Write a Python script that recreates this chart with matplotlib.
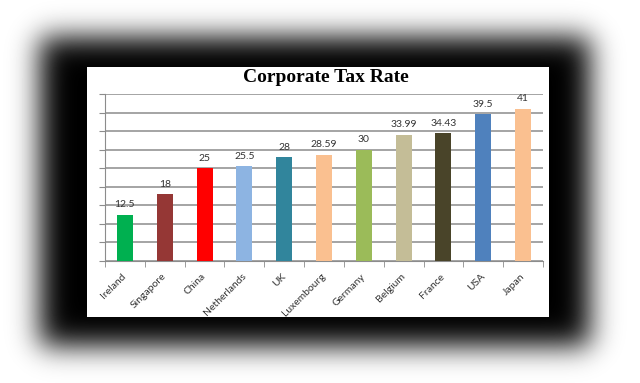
import math
import numpy as np
import matplotlib
matplotlib.use("Agg")
import matplotlib.pyplot as plt
from matplotlib.patches import Rectangle

countries = ["Ireland", "Singapore", "China", "Netherlands", "UK", "Luxembourg",
             "Germany", "Belgium", "France", "USA", "Japan"]
rates = [12.5, 18, 25, 25.5, 28, 28.59, 30, 33.99, 34.43, 39.5, 41]
rate_labels = ["12.5", "18", "25", "25.5", "28", "28.59", "30", "33.99", "34.43", "39.5", "41"]
bar_colors = ["#00B050", "#953735", "#FF0000", "#8DB4E2", "#31859C", "#FAC090",
              "#9BBB59", "#C4BD97", "#494429", "#4F81BD", "#FAC090"]
y_ticks = list(range(0, 46, 5))
title = "Corporate Tax Rate"

W, H = 640, 383
fig = plt.figure(figsize=(W / 100, H / 100), dpi=100)
fig.patch.set_facecolor("white")

# decorative blurred black shadow frame
bg = fig.add_axes([0, 0, 1, 1])
bg.axis("off")
erf = np.vectorize(math.erf)
xs = np.arange(W) + 0.5
ys = np.arange(H) + 0.5


def prof(v, a, b, s):
    return 0.5 * (erf((v - a) / (s * math.sqrt(2))) - erf((v - b) / (s * math.sqrt(2))))


D = np.outer(prof(ys, 37, 346, 14), prof(xs, 40, 590, 14))
bg.imshow(1 - D, cmap="gray", vmin=0, vmax=1, extent=[0, W, H, 0],
          aspect="auto", interpolation="bilinear")
bg.set_xlim(0, W)
bg.set_ylim(H, 0)
bg.add_patch(Rectangle((87, 67), 462, 250, facecolor="white", edgecolor="none"))

fig.text((243 + 408) / 2 / W, (H - 77) / H, title, ha="center", va="center",
         family="Liberation Serif", weight="bold", fontsize=14)

ax = fig.add_axes([105 / W, (H - 261) / H, (543 - 105) / W, (261 - 94) / H])
ax.set_facecolor("white")
x = np.arange(len(countries))
ax.bar(x, rates, width=0.4, color=bar_colors, zorder=3)
ax.set_xlim(-0.5, len(countries) - 0.5)
ax.set_ylim(0, 45)
ax.set_yticks(y_ticks)
ax.yaxis.grid(True, color="#8c8c8c", linewidth=1.1)
ax.set_axisbelow(True)
for s in ["top", "right"]:
    ax.spines[s].set_visible(False)
for s in ["left", "bottom"]:
    ax.spines[s].set_color("#8c8c8c")
ax.tick_params(axis="y", length=4, color="#8c8c8c", labelleft=False)
ax.set_xticks(x)
ax.set_xticks(np.arange(-0.5, len(countries)), minor=True)
ax.tick_params(axis="x", which="major", length=0, pad=10)
ax.tick_params(axis="x", which="minor", length=4, color="#8c8c8c")
ax.set_xticklabels(countries, rotation=45, ha="right", va="center", rotation_mode="anchor",
                   family="Lato", fontsize=7.5, color="#333333")

for xi, v, lab in zip(x, rates, rate_labels):
    ax.annotate(lab, (xi, v), xytext=(0, 4), textcoords="offset points",
                ha="center", va="bottom", family="Lato", fontsize=7.5, color="#333333")

fig.savefig("out.png", dpi=100)
